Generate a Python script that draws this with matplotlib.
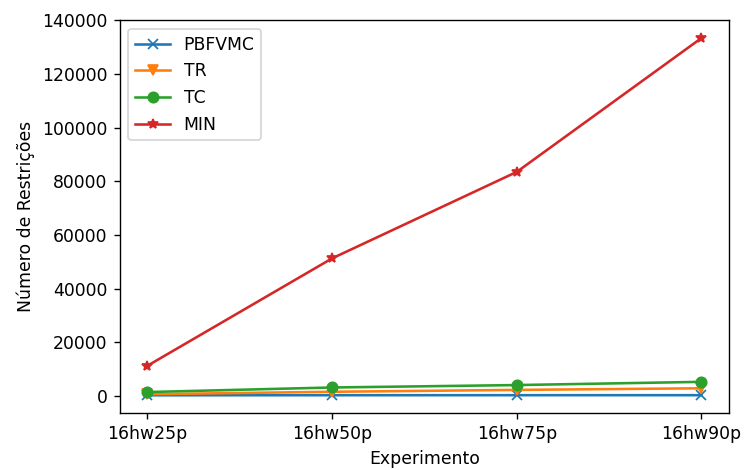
import numpy as np
import matplotlib
matplotlib.use("Agg")
import matplotlib.pyplot as plt

experimentos = ["16hw25p", "16hw50p", "16hw75p", "16hw90p"]
pbfvmc = [300, 320, 330, 330]
tr = [700, 1600, 2300, 2900]
tc = [1500, 3200, 4100, 5300]
minimo = [11300, 51300, 83500, 133350]

fig = plt.figure(figsize=(6.0, 470 / 124), dpi=124)
ax = fig.add_axes([0.161, 0.121, 0.819, 0.836])

x = np.arange(len(experimentos))
ax.plot(x, pbfvmc, marker="x", label="PBFVMC")
ax.plot(x, tr, marker="v", label="TR")
ax.plot(x, tc, marker="o", label="TC")
ax.plot(x, minimo, marker="*", label="MIN")

ax.set_xticks(x)
ax.set_xticklabels(experimentos)
ax.set_xlabel("Experimento")
ax.set_ylabel("Número de Restrições")
ax.legend(loc="upper left")

fig.savefig("out.png", dpi=124)
